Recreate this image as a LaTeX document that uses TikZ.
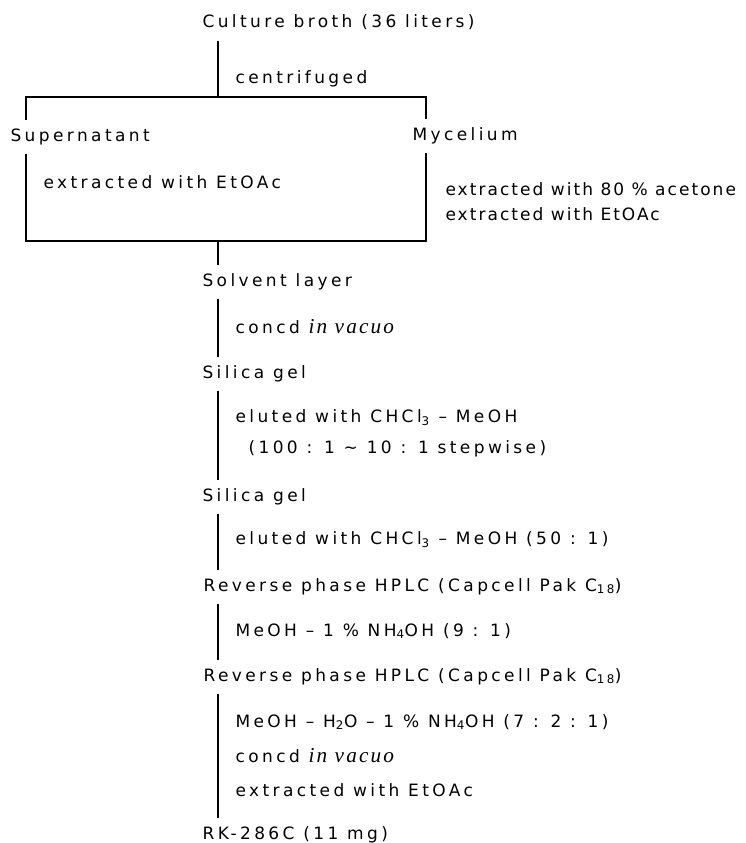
\documentclass[tikz,border=0pt]{standalone}
\usepackage{fontspec}
\setmainfont{DejaVu Sans}[LetterSpace=20]
\newfontfamily\vacuofont{Liberation Serif}[LetterSpace=10, Scale=1.25]
\usetikzlibrary{positioning, calc}
\newcommand{\invacuo}{{\vacuofont\itshape in vacuo}}

\begin{document}
\begin{tikzpicture}[x=1pt,y=-1pt,line width=1.1pt,
		font=\fontsize{17}{20}\selectfont,
		stage/.style={anchor=west, yshift=-2pt, inner xsep=0pt, inner ysep=7pt, text height=13pt, text depth=5pt},
		cond/.style={anchor=west, yshift=-2pt, inner sep=0pt}]
		\useasboundingbox (0,0) rectangle (746,843);
		
		\node		(broth) [stage] at (202,22)	{Culture broth (36 liters)};
		\node		(centrifuge) [cond] at (235,77)	{centrifuged};
		\coordinate	(split) at (218,97);
		\coordinate	(fork left) at (26,97);
		\coordinate	(fork right) at (426,97);
		\draw (broth.south -| split) -- (split);
		
		\node		(supernatant) [stage] at (10,135)	{Supernatant};
		\node		(mycelium) [stage] at (412,134)	{Mycelium};
		\draw (supernatant.north -| fork left) -- (fork left) -- (fork right) -- (mycelium.north -| fork right);
		
		% box round both extractions
		\coordinate	(box left) at (26,241);
		\coordinate	(box right) at (426,241);
		\draw (supernatant.south -| box left) -- (box left) -- (box right) -- (mycelium.south -| box right);
		\node		(super cond) [cond] at (43,180)	{extracted with EtOAc};
		\node		(myc cond-1) [cond] at (445,187)	{\addfontfeature{LetterSpace=12}extracted with 80 \% acetone};
		\node		(myc cond-2) [cond] at (445,212)	{\addfontfeature{LetterSpace=12}extracted with EtOAc};
		
		\node		(solvent) [stage] at (202,280)	{Solvent layer};
		\draw (box left -| split) -- (solvent.north -| split);
		\node		(concd-1) [cond] at (235,325)	{concd \invacuo};
		\node		(silica-1) [stage] at (202,372)	{Silica gel};
		\node		(elute-1) [cond] at (235,416)	{eluted with CHCl\textsubscript{3} – MeOH};
		\node		(elute-1b) [cond] at (248,447)	{(100 : 1 \textasciitilde{} 10 : 1 stepwise)};
		\node		(silica-2) [stage] at (202,495)	{Silica gel};
		\node		(elute-2) [cond] at (235,538)	{eluted with CHCl\textsubscript{3} – MeOH (50 : 1)};
		\node		(hplc-1) [stage] at (203,585)	{Reverse phase HPLC (Capcell Pak C\textsubscript{18})};
		\node		(mobile-1) [cond] at (235,629)	{MeOH – 1 \% NH\textsubscript{4}OH (9 : 1)};
		\node		(hplc-2) [stage] at (203,675)	{Reverse phase HPLC (Capcell Pak C\textsubscript{18})};
		\node		(mobile-2) [cond] at (235,720)	{MeOH – H\textsubscript{2}O – 1 \% NH\textsubscript{4}OH (7 : 2 : 1)};
		\node		(concd-2) [cond] at (235,754)	{concd \invacuo};
		\node		(extract) [cond] at (235,788)	{extracted with EtOAc};
		\node		(product) [stage] at (202,833)	{RK-286C (11 mg)};
		
		\foreach \a/\b in {solvent/silica-1, silica-1/silica-2, silica-2/hplc-1, hplc-1/hplc-2, hplc-2/product}
			\draw (\a.south -| split) -- (\b.north -| split);
		
\end{tikzpicture}
\end{document}
